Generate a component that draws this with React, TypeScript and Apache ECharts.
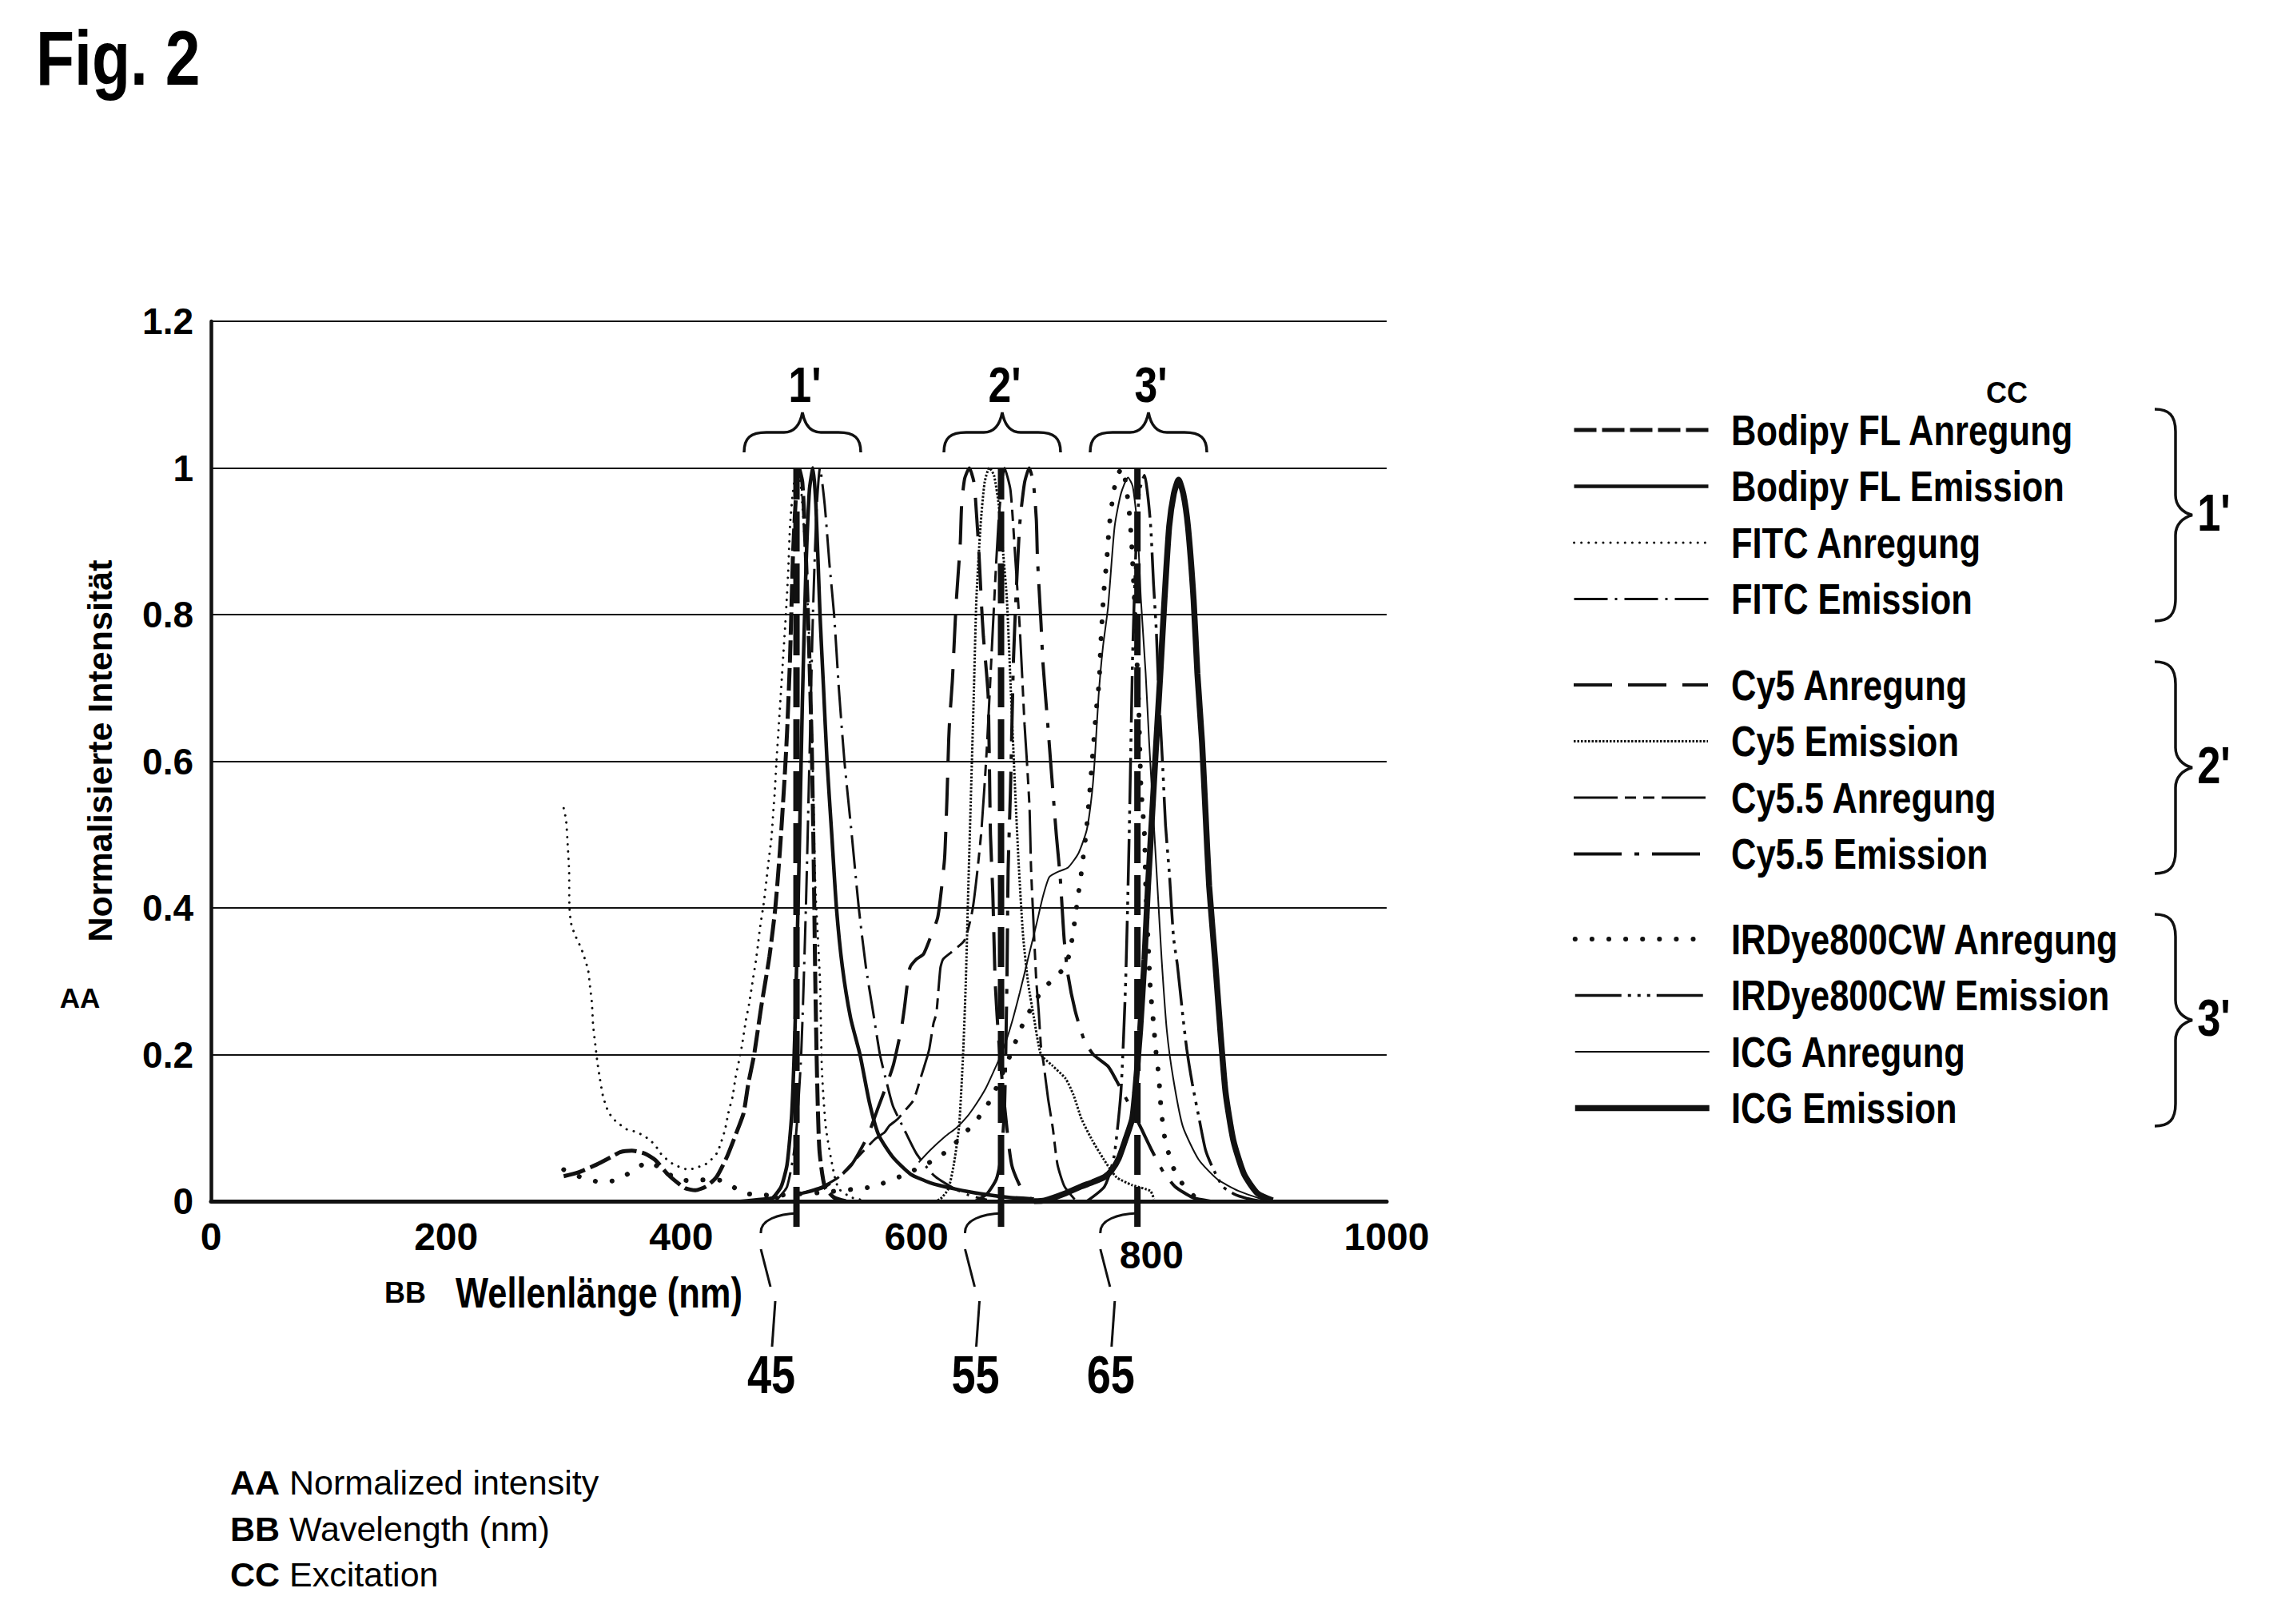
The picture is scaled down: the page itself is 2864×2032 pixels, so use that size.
import React, { useEffect, useRef } from 'react';
import * as echarts from 'echarts';

const BOLD = '"Liberation Sans", Arial, Helvetica, sans-serif';
const SANS = '"Liberation Sans", Arial, Helvetica, sans-serif';
const NARROW_SCALE = 0.82;
const INK = '#111';

// ---------- tick values ----------
const wavelengthTicks = [0, 200, 400, 600, 800, 1000];
const intensityTicks = [0, 0.2, 0.4, 0.6, 0.8, 1, 1.2];

// ---------- spectra: [wavelength nm, normalized intensity] ----------
const bodipyExcitation = [[300,0.034],[312,0.039],[328,0.05],[340,0.06],[348,0.067],[358,0.069],[369,0.065],[378,0.056],[389,0.036],[403,0.018],[412,0.015],[421,0.02],[430,0.033],[439,0.061],[448,0.098],[453,0.12],[457,0.16],[462,0.2],[468,0.265],[475,0.334],[480,0.4],[484,0.48],[488,0.58],[490,0.64],[492.5,0.74],[495,0.88],[497.5,0.96],[500,1.0],[503,0.98],[506,0.88],[509,0.74],[511,0.62],[512.5,0.48],[514,0.3],[515.5,0.17],[517.5,0.07],[522,0.02],[530,0.005],[540,0]];
const bodipyEmission = [[470,0],[478,0.005],[485,0.02],[490,0.05],[494,0.12],[497,0.25],[500,0.45],[503,0.68],[506,0.86],[509,0.97],[512,1.0],[514.5,0.95],[518,0.8],[521,0.7],[524,0.6],[528,0.5],[532,0.4],[537,0.32],[544,0.25],[552,0.2],[560,0.135],[568,0.09],[580,0.06],[595,0.037],[612,0.025],[632,0.017],[655,0.01],[680,0.005],[700,0.003]];
const fitcExcitation = [[300,0.536],[302,0.52],[303.4,0.486],[304.6,0.45],[304.8,0.405],[306,0.381],[308,0.37],[310.5,0.36],[313.4,0.35],[316.3,0.339],[318.4,0.328],[320.7,0.316],[322.4,0.293],[324,0.27],[325,0.24],[327,0.212],[328.6,0.19],[330.8,0.167],[333.3,0.144],[335.4,0.133],[338,0.122],[342.4,0.112],[347.5,0.105],[353.7,0.098],[360.5,0.095],[367.3,0.09],[372.8,0.084],[378,0.076],[382,0.066],[387,0.058],[392.7,0.051],[399.5,0.046],[406.3,0.043],[413,0.046],[420.3,0.05],[425.6,0.057],[430.5,0.066],[433,0.076],[437.3,0.098],[440,0.12],[443.7,0.143],[446,0.167],[448.9,0.19],[451.6,0.212],[455,0.247],[457.7,0.269],[461.1,0.304],[463.4,0.327],[465.2,0.349],[467,0.373],[470.2,0.407],[472.7,0.441],[474.3,0.464],[476.8,0.497],[478.4,0.534],[479.5,0.557],[481,0.6],[483,0.65],[485,0.7],[487,0.75],[489,0.8],[491,0.86],[492.5,0.92],[494.5,0.96],[497,0.99],[499,1.0],[502,0.97],[505,0.9],[508,0.8],[510,0.7],[511.7,0.6],[514,0.43],[518,0.3],[519.6,0.18],[523,0.1],[530,0.037],[534,0.017],[545,0.005],[560,0]];
const fitcEmission = [[480,0],[490,0.02],[497,0.08],[502,0.2],[506,0.4],[509,0.6],[512,0.8],[515,0.94],[518,1.0],[522,0.95],[526,0.87],[530,0.8],[534,0.7],[538.8,0.6],[545,0.5],[551,0.4],[557,0.32],[563,0.26],[569,0.2],[575,0.16],[580,0.13],[589,0.1],[600,0.065],[615,0.035],[631.5,0.018],[645,0.008],[660,0.002]];
const cy5Excitation = [[450,0],[480,0.005],[500,0.01],[520,0.018],[534,0.033],[545,0.05],[558,0.087],[568,0.13],[575,0.16],[580.6,0.187],[587.6,0.239],[590,0.266],[594.4,0.318],[600,0.33],[606,0.337],[612,0.36],[618,0.386],[620.4,0.413],[624,0.468],[626,0.55],[627.5,0.63],[628.3,0.657],[630.6,0.71],[633,0.79],[634,0.82],[636.3,0.873],[637.4,0.9],[638.5,0.95],[641,0.985],[645,1.0],[649,0.98],[651,0.94],[653,0.89],[655.5,0.81],[657,0.77],[661,0.69],[663,0.5],[665,0.42],[667,0.3],[670,0.22],[675,0.13],[681,0.05],[690,0.015],[700,0]];
const cy5Emission = [[615,0],[620.4,0.003],[627.2,0.017],[631.8,0.05],[636.3,0.102],[639.7,0.2],[642,0.298],[644.2,0.43],[646.5,0.56],[648.8,0.69],[651,0.82],[654.5,0.92],[658,0.98],[662,1.0],[666,0.99],[670,0.95],[674,0.88],[677,0.82],[680.5,0.69],[684,0.56],[687,0.46],[690.7,0.363],[695,0.298],[700,0.25],[706,0.2],[715.6,0.185],[727,0.167],[733.6,0.145],[740.5,0.112],[749.6,0.083],[759,0.058],[770,0.033],[783.5,0.022],[799,0.014],[802,0.003]];
const cy55Excitation = [[500,0.01],[520,0.02],[534,0.033],[550,0.06],[565,0.085],[573,0.094],[577,0.103],[584,0.112],[591,0.125],[597.6,0.138],[604,0.17],[609,0.196],[611,0.208],[614.6,0.243],[617,0.256],[620.4,0.318],[622.7,0.33],[630,0.34],[641,0.356],[648,0.4],[655,0.5],[660,0.62],[665,0.78],[670,0.93],[675,1.0],[680,0.97],[684,0.88],[688,0.78],[692,0.65],[694,0.6],[696.3,0.534],[697.5,0.455],[699.6,0.38],[702,0.3],[704,0.26],[706,0.21],[708,0.19],[712,0.14],[716,0.1],[720,0.05],[726,0.02],[736,0]];
const cy55Emission = [[650,0],[660,0.01],[668,0.03],[672,0.06],[675,0.13],[677,0.3],[678,0.45],[680,0.56],[682.6,0.74],[685,0.834],[688,0.925],[692,0.98],[696,1.0],[699.6,0.978],[702,0.93],[703,0.876],[706,0.788],[707.6,0.735],[712,0.645],[714.6,0.59],[719,0.5],[722.4,0.44],[725.7,0.357],[729,0.308],[735,0.26],[742.7,0.22],[750.5,0.2],[763,0.184],[770,0.165],[780,0.135],[791,0.1],[800,0.07],[810,0.04],[820,0.02],[835,0.005],[850,0]];
const irdyeExcitation = [[300,0.043],[319,0.03],[334,0.026],[347,0.03],[360,0.043],[372.8,0.054],[382,0.045],[397,0.03],[410.6,0.028],[425.6,0.03],[439,0.026],[450.7,0.012],[464,0.009],[480,0.008],[500,0.01],[520,0.012],[550,0.017],[563.8,0.02],[591,0.037],[616,0.057],[627,0.07],[638.5,0.088],[647.6,0.104],[656.7,0.122],[665,0.144],[672,0.17],[681.6,0.206],[686.6,0.227],[692.5,0.248],[707,0.288],[717.4,0.304],[727,0.321],[731,0.344],[733.3,0.367],[735.3,0.389],[737.1,0.413],[739.4,0.436],[741,0.458],[742.8,0.481],[744.5,0.504],[747,0.55],[750.5,0.62],[753,0.67],[755.5,0.71],[756.8,0.76],[759.4,0.83],[762,0.876],[764,0.92],[767.5,0.965],[771,0.99],[775,1.0],[778,0.98],[781,0.94],[783,0.9],[786,0.8],[789,0.68],[791,0.566],[794,0.5],[795,0.432],[797,0.357],[799,0.29],[801.5,0.246],[804,0.2],[806,0.174],[807,0.151],[808,0.128],[809.6,0.105],[811.6,0.083],[815,0.063],[820,0.04],[828,0.02],[838,0.004]];
const irdyeEmission = [[745,0],[760,0.02],[768,0.06],[774,0.15],[778,0.3],[781,0.5],[784,0.75],[787,0.9],[790,0.97],[794,0.99],[797,0.96],[799.4,0.918],[801.7,0.842],[804,0.78],[806,0.7],[809.6,0.59],[811.9,0.513],[815.3,0.444],[818.7,0.36],[822,0.322],[826.6,0.253],[830,0.207],[834.6,0.161],[840.2,0.115],[845.9,0.07],[851.6,0.047],[860.6,0.02],[870,0.01],[881,0.004],[895,0]];
const icgExcitation = [[602,0.053],[612,0.07],[625,0.089],[634,0.1],[643,0.115],[651,0.133],[659,0.154],[666,0.178],[672,0.2],[677,0.222],[681.6,0.246],[688,0.285],[695,0.331],[702,0.377],[707.7,0.416],[713,0.442],[720,0.449],[729,0.455],[738,0.475],[745,0.507],[749.6,0.56],[752,0.61],[755,0.69],[758.6,0.755],[763,0.81],[768.6,0.92],[774,0.965],[780,0.987],[784,0.975],[788,0.92],[791,0.82],[795,0.72],[798,0.625],[801.5,0.527],[805,0.43],[808.6,0.33],[813,0.233],[818.5,0.167],[826.6,0.102],[840,0.057],[856,0.03],[874,0.014],[897,0.001]];
const icgEmission = [[700,0],[709,0.001],[727,0.011],[740,0.02],[750,0.026],[760,0.033],[766,0.042],[772,0.058],[778,0.085],[783.5,0.112],[786,0.148],[790.3,0.233],[794,0.33],[797,0.43],[800.5,0.527],[804,0.625],[807.5,0.72],[811,0.82],[815,0.92],[819,0.965],[823,0.984],[827,0.965],[831,0.92],[835.8,0.82],[839,0.72],[843,0.625],[846,0.527],[849,0.43],[854,0.33],[858.5,0.233],[863,0.148],[869.6,0.083],[878.7,0.037],[890,0.011],[903,0.001]];

// laser / filter lines 45, 55, 65
const laserLabels = ['45', '55', '65'];
const laserWavelengths = [498, 672, 788];
const laserSpan = [-0.035, 1.0];

// legend groups
const group1 = ['Bodipy FL Anregung', 'Bodipy FL Emission', 'FITC Anregung', 'FITC Emission'];
const group2 = ['Cy5 Anregung', 'Cy5 Emission', 'Cy5.5 Anregung', 'Cy5.5 Emission'];
const group3 = ['IRDye800CW Anregung', 'IRDye800CW Emission', 'ICG Anregung', 'ICG Emission'];
const groupLabels = ["1'", "2'", "3'"];

// brace shapes
const braceH = 'M0,50 C0,32 8,25 28,25 L50,25 C62,25 70,16 73,0 C76,16 84,25 96,25 L118,25 C138,25 146,32 146,50';
const L = 265;
const braceV = `M0,0 C18,0 26,8 26,28 L26,${L / 2 - 25} C26,${L / 2 - 12} 35,${L / 2 - 3} 47,${L / 2} C35,${L / 2 + 3} 26,${L / 2 + 12} 26,${L / 2 + 25} L26,${L - 28} C26,${L - 8} 18,${L} 0,${L}`;
echarts.graphic.registerShape('braceH', echarts.graphic.extendPath(braceH, {}));
echarts.graphic.registerShape('braceV', echarts.graphic.extendPath(braceV, {}));

type Spec = { name: string; data: number[][]; width: number; dash: number[] | 'solid'; cap?: string };
const specs: Spec[] = [
  { name: group1[0], data: bodipyExcitation, width: 5, dash: [28, 7] },
  { name: group1[1], data: bodipyEmission, width: 4.5, dash: 'solid' },
  { name: group1[2], data: fitcExcitation, width: 3, dash: [0.1, 9], cap: 'round' },
  { name: group1[3], data: fitcEmission, width: 3, dash: [42, 9, 3, 9] },
  { name: group2[0], data: cy5Excitation, width: 4, dash: [48, 20] },
  { name: group2[1], data: cy5Emission, width: 3, dash: [2.5, 2] },
  { name: group2[2], data: cy55Excitation, width: 3, dash: [55, 9, 14, 9, 14, 9] },
  { name: group2[3], data: cy55Emission, width: 4, dash: [60, 16, 6, 16] },
  { name: group3[0], data: irdyeExcitation, width: 6, dash: [0.1, 21], cap: 'round' },
  { name: group3[1], data: irdyeEmission, width: 3.5, dash: [58, 8, 4, 8, 4, 8, 4, 8] },
  { name: group3[2], data: icgExcitation, width: 2, dash: 'solid' },
  { name: group3[3], data: icgEmission, width: 7.5, dash: 'solid' },
];

function textEl(text: string, x: number, y: number, size: number, family: string, weight = 'bold', align = 'center', scaleX = 1) {
  return {
    type: 'text', x, y, scaleX, silent: true,
    style: { text, fill: '#000', fontSize: size, fontFamily: family, fontWeight: weight, align, verticalAlign: 'middle' },
  };
}

const ROW = 70.5;
function legendBlock(names: string[], firstRow: number) {
  return {
    show: true, orient: 'vertical', left: 1967, top: firstRow - 26.5, padding: 0,
    data: names, itemWidth: 168, itemHeight: 2, itemGap: ROW - 53, selectedMode: false,
    icon: 'inherit',
    itemStyle: { opacity: 0 },
    lineStyle: { width: 'inherit', type: 'inherit', cap: 'inherit', color: 'inherit' },
    formatter: () => '\u00a0',
    textStyle: { fontSize: 53, lineHeight: 53, fontFamily: BOLD, color: '#000' },
  };
}

export default function App() {
  const ref = useRef<HTMLDivElement>(null);
  useEffect(() => {
    if (!ref.current) return;
    const chart = echarts.init(ref.current, undefined, { renderer: 'svg' });

    const series: any[] = specs.map((s) => ({
      type: 'line', name: s.name, data: s.data, symbol: 'none', showSymbol: false,
      smooth: 0.2, silent: true, z: 2,
      lineStyle: { color: INK, width: s.width, type: s.dash, cap: s.cap || 'butt' },
      itemStyle: { color: INK },
    }));
    laserWavelengths.forEach((nm, i) => {
      series.push({
        type: 'line', name: laserLabels[i], data: [[nm, laserSpan[0]], [nm, laserSpan[1]]],
        symbol: 'none', clip: false, silent: true, z: 4,
        lineStyle: { color: INK, width: 8, type: [50, 15] },
      });
    });

    const legendRows = [538, 857, 1175];
    const graphic: any[] = [];
    graphic.push(textEl('Fig. 2', 45, 73, 96, BOLD, 'bold', 'left', NARROW_SCALE));
    graphic.push(textEl('AA', 100, 1248, 35, SANS));
    graphic.push(textEl('BB', 507, 1617, 36, SANS));
    graphic.push(textEl('Wellenlänge (nm)', 570, 1617, 53, BOLD, 'bold', 'left', NARROW_SCALE));
    graphic.push(textEl('CC', 2511, 491, 36, SANS));
    // legend labels (condensed lettering)
    [group1, group2, group3].forEach((g, gi) => {
      g.forEach((name, k) => {
        graphic.push(textEl(name, 2166, legendRows[gi] + k * ROW, 53, BOLD, 'bold', 'left', NARROW_SCALE));
      });
    });
    // braces above peak groups
    const braceXs = [931, 1181, 1364];
    braceXs.forEach((bx, i) => {
      graphic.push({ type: 'braceH', x: bx, y: 516, silent: true, style: { stroke: INK, lineWidth: 3.5, fill: 'none' } });
      graphic.push(textEl(groupLabels[i], bx + 76, 481, 63, BOLD, 'bold', 'center', NARROW_SCALE));
    });
    // braces beside legend groups
    const braceYs = [512, 828, 1144];
    braceYs.forEach((by, i) => {
      graphic.push({ type: 'braceV', x: 2696, y: by, silent: true, style: { stroke: INK, lineWidth: 3.5, fill: 'none' } });
      graphic.push(textEl(groupLabels[i], 2770, by + L / 2 - 3, 64, BOLD, 'bold', 'center', NARROW_SCALE));
    });
    // leaders from laser lines to reference numerals
    const tickX = [998, 1253.5, 1422.8];
    tickX.forEach((tx, i) => {
      const ex = tx - 46;
      graphic.push({ type: 'bezierCurve', silent: true, shape: { x1: tx, y1: 1518, cpx1: tx - 24, cpy1: 1519, cpx2: ex - 1, cpy2: 1526, x2: ex, y2: 1543 }, style: { stroke: INK, lineWidth: 3, fill: null } });
      graphic.push({ type: 'line', silent: true, shape: { x1: ex, y1: 1563, x2: ex + 12, y2: 1610 }, style: { stroke: INK, lineWidth: 3 } });
      graphic.push({ type: 'line', silent: true, shape: { x1: ex + 18, y1: 1628, x2: ex + 14, y2: 1685 }, style: { stroke: INK, lineWidth: 3 } });
      graphic.push(textEl(laserLabels[i], ex + 13, 1720, 66, BOLD, 'bold', 'center', NARROW_SCALE));
    });
    // footnote
    const notes = [['AA', 'Normalized intensity'], ['BB', 'Wavelength (nm)'], ['CC', 'Excitation']];
    notes.forEach((n, i) => {
      graphic.push({
        type: 'text', x: 288, y: 1855 + i * 57.5, silent: true,
        style: {
          text: `{b|${n[0]}} ${n[1]}`, fill: '#000', fontSize: 43, fontFamily: SANS, align: 'left', verticalAlign: 'middle',
          rich: { b: { fontWeight: 'bold', fontSize: 43, fontFamily: SANS, fill: '#000' } },
        },
      });
    });

    chart.setOption({
      animation: false,
      backgroundColor: '#fff',
      textStyle: { fontFamily: BOLD },
      grid: { left: 264, top: 402, width: 1471, height: 1101, containLabel: false },
      xAxis: {
        type: 'value', min: wavelengthTicks[0], max: wavelengthTicks[wavelengthTicks.length - 1], interval: 200,
        axisLine: { show: true, onZero: false, lineStyle: { color: INK, width: 5 } },
        axisTick: { show: false }, splitLine: { show: false },
        axisLabel: {
          margin: 20, fontSize: 48, fontFamily: BOLD, fontWeight: 'bold', color: '#000',
          formatter: (v: number) => (v === 800 ? '{low|800}' : String(v)),
          rich: { low: { padding: [23, 0, 0, 0], fontSize: 48, fontFamily: BOLD, fontWeight: 'bold', color: '#000' } },
        },
      },
      yAxis: {
        type: 'value', min: intensityTicks[0], max: intensityTicks[intensityTicks.length - 1], interval: 0.2,
        name: 'Normalisierte Intensität', nameLocation: 'middle', nameGap: 118, nameRotate: 90,
        nameTextStyle: { fontSize: 43, fontFamily: BOLD, fontWeight: 'bold', color: '#000', padding: [0, 0, 0, 26] },
        axisLine: { show: true, lineStyle: { color: INK, width: 4.5 } },
        axisTick: { show: false },
        splitLine: { show: true, lineStyle: { color: INK, width: 2 } },
        axisLabel: { margin: 22, fontSize: 46, fontFamily: BOLD, fontWeight: 'bold', color: '#000' },
      },
      legend: [legendBlock(group1, legendRows[0]), legendBlock(group2, legendRows[1]), legendBlock(group3, legendRows[2])],
      series,
      graphic,
    });
    return () => chart.dispose();
  }, []);
  return <div ref={ref} style={{ position: 'fixed', left: 0, top: 0, width: 2864, height: 2032, background: '#fff' }} />;
}
